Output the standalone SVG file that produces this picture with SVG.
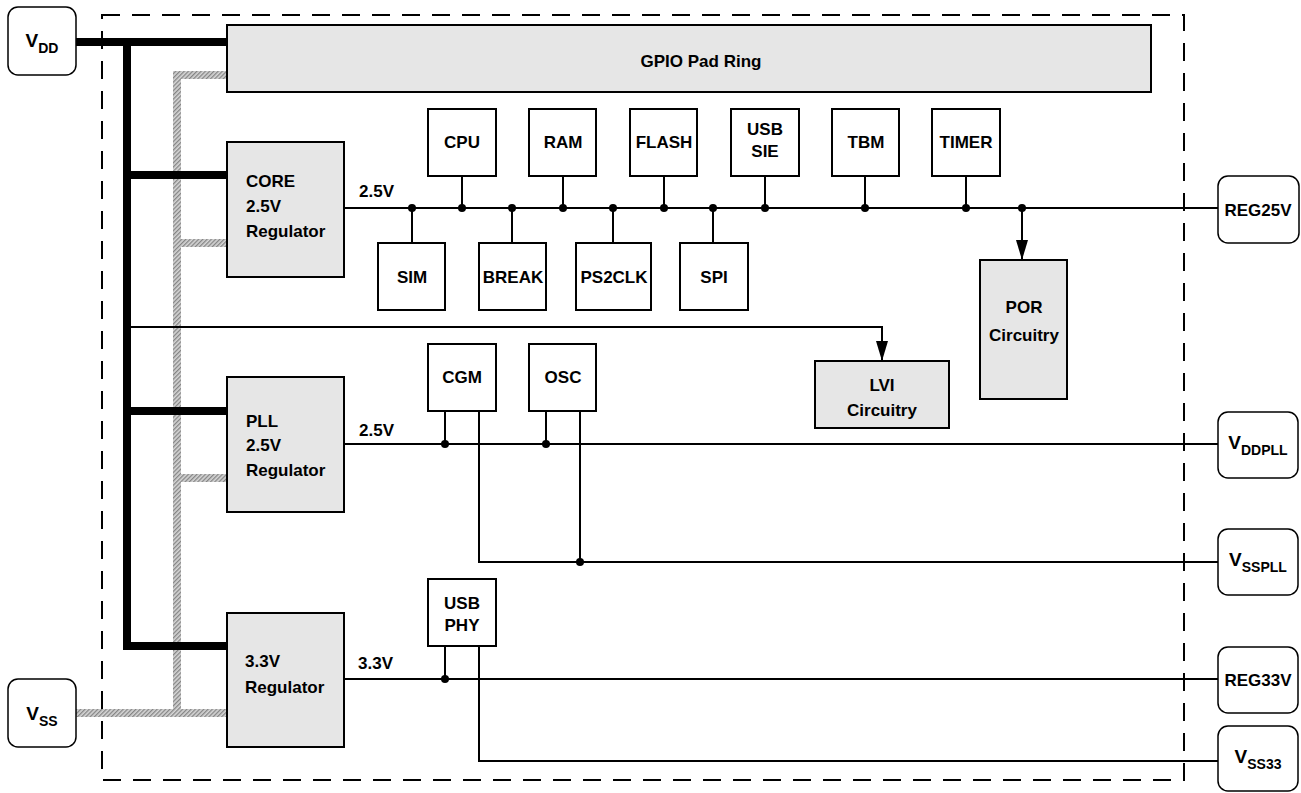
<svg xmlns="http://www.w3.org/2000/svg" width="1301" height="793" viewBox="0 0 1301 793">
<style>
text{font-family:"Liberation Sans",Arial,sans-serif;font-weight:bold;font-size:17px;fill:#000}
.box{fill:#fff;stroke:#000;stroke-width:2}
.gbox{fill:#e6e6e6;stroke:#000;stroke-width:2}
.pin{fill:#fff;stroke:#000;stroke-width:1.5}
.w{fill:none;stroke:#000;stroke-width:2}
.thick{fill:#000}
.hat{fill:url(#hatch)}
.pv{font-size:19px}
.sub{font-size:14px}
.dot{fill:#000}
</style>
<defs>
<pattern id="hatch" width="3" height="3" patternUnits="userSpaceOnUse" patternTransform="rotate(45)">
<rect width="3" height="3" fill="#d6d6d6"/><rect width="1.3" height="3" fill="#858585"/>
</pattern>
<marker id="arr" viewBox="0 0 20 12" refX="20" refY="6" markerWidth="20" markerHeight="12" markerUnits="userSpaceOnUse" orient="auto">
<path d="M0,0 L20,6 L0,12 Z" fill="#000"/>
</marker>
</defs>
<rect width="1301" height="793" fill="#fff"/>
<rect id="chip-border" x="102" y="15" width="1082" height="765" fill="none" stroke="#000" stroke-width="2" stroke-dasharray="18 12"/>

<g id="supply-rails">
<rect class="hat" x="173" y="71" width="54" height="8"/>
<rect class="hat" x="173" y="71" width="8" height="646"/>
<rect class="hat" x="181" y="239" width="46" height="8"/>
<rect class="hat" x="181" y="474" width="46" height="8"/>
<rect class="hat" x="76" y="709" width="151" height="8"/>
<rect class="thick" x="76" y="38" width="151" height="8"/>
<rect class="thick" x="123" y="38" width="8" height="612"/>
<rect class="thick" x="131" y="171" width="96" height="8"/>
<rect class="thick" x="131" y="407" width="96" height="8"/>
<rect class="thick" x="131" y="642" width="96" height="8"/>
</g>

<g id="connectors">
<path class="w" d="M344,208 H1218"/>
<path class="w" d="M462,176 V208 M563,176 V208 M664,176 V208 M765,176 V208 M865,176 V208 M966,176 V208"/>
<path class="w" d="M412,208 V243 M512,208 V243 M613,208 V243 M713,208 V243"/>
<path class="w" d="M1022,208 V260" marker-end="url(#arr)"/>
<path class="w" d="M131,327 H882 V361" marker-end="url(#arr)"/>
<path class="w" d="M344,444 H1218"/>
<path class="w" d="M445,411 V444 M546,411 V444"/>
<path class="w" d="M479,411 V562 H1218 M580,411 V562"/>
<path class="w" d="M344,679 H1218"/>
<path class="w" d="M445,646 V679"/>
<path class="w" d="M479,646 V761 H1218"/>
<g class="dot">
<circle cx="412" cy="208" r="4"/><circle cx="462" cy="208" r="4"/><circle cx="512" cy="208" r="4"/><circle cx="563" cy="208" r="4"/><circle cx="613" cy="208" r="4"/><circle cx="664" cy="208" r="4"/><circle cx="713" cy="208" r="4"/><circle cx="765" cy="208" r="4"/><circle cx="865" cy="208" r="4"/><circle cx="966" cy="208" r="4"/><circle cx="1022" cy="208" r="4"/>
<circle cx="445" cy="444" r="4"/><circle cx="546" cy="444" r="4"/><circle cx="580" cy="562" r="4"/><circle cx="445" cy="679" r="4"/>
</g>
<text x="359" y="197">2.5V</text>
<text x="359" y="436">2.5V</text>
<text x="358" y="669">3.3V</text>
</g>

<g id="vdd"><rect class="pin" x="8" y="7" width="68" height="68" rx="10"/><text class="pv" x="42" y="47" text-anchor="middle">V<tspan class="sub" dy="6">DD</tspan></text></g>
<g id="vss"><rect class="pin" x="8" y="679" width="68" height="68" rx="10"/><text class="pv" x="42" y="720" text-anchor="middle">V<tspan class="sub" dy="6">SS</tspan></text></g>
<g id="reg25v"><rect class="pin" x="1218" y="176" width="81" height="67" rx="10"/><text x="1258" y="216" text-anchor="middle">REG25V</text></g>
<g id="vddpll"><rect class="pin" x="1218" y="412" width="80" height="66" rx="10"/><text class="pv" x="1258" y="449" text-anchor="middle">V<tspan class="sub" dy="6">DDPLL</tspan></text></g>
<g id="vsspll"><rect class="pin" x="1218" y="529" width="80" height="66" rx="10"/><text class="pv" x="1258" y="566" text-anchor="middle">V<tspan class="sub" dy="6">SSPLL</tspan></text></g>
<g id="reg33v"><rect class="pin" x="1218" y="647" width="80" height="66" rx="10"/><text x="1258" y="686" text-anchor="middle">REG33V</text></g>
<g id="vss33"><rect class="pin" x="1218" y="726" width="80" height="65" rx="10"/><text class="pv" x="1258" y="763" text-anchor="middle">V<tspan class="sub" dy="6">SS33</tspan></text></g>

<g id="gpio"><rect class="gbox" x="227" y="25" width="924" height="67"/><text x="701" y="67" text-anchor="middle">GPIO Pad Ring</text></g>
<g id="core-reg"><rect class="gbox" x="227" y="142" width="117" height="135"/><text x="246" y="187">CORE</text><text x="246" y="212">2.5V</text><text x="246" y="237">Regulator</text></g>
<g id="pll-reg"><rect class="gbox" x="227" y="377" width="117" height="135"/><text x="246" y="427">PLL</text><text x="246" y="451">2.5V</text><text x="246" y="476">Regulator</text></g>
<g id="reg33"><rect class="gbox" x="227" y="613" width="117" height="134"/><text x="245" y="667">3.3V</text><text x="245" y="693">Regulator</text></g>

<g id="cpu"><rect class="box" x="428" y="109" width="68" height="67"/><text x="462" y="148" text-anchor="middle">CPU</text></g>
<g id="ram"><rect class="box" x="529" y="109" width="67" height="67"/><text x="563" y="148" text-anchor="middle">RAM</text></g>
<g id="flash"><rect class="box" x="630" y="109" width="67" height="67"/><text x="664" y="148" text-anchor="middle">FLASH</text></g>
<g id="usb-sie"><rect class="box" x="731" y="109" width="68" height="67"/><text x="765" y="135" text-anchor="middle">USB</text><text x="765" y="157" text-anchor="middle">SIE</text></g>
<g id="tbm"><rect class="box" x="832" y="109" width="67" height="67"/><text x="866" y="148" text-anchor="middle">TBM</text></g>
<g id="timer"><rect class="box" x="932" y="109" width="68" height="67"/><text x="966" y="148" text-anchor="middle">TIMER</text></g>

<g id="sim"><rect class="box" x="378" y="243" width="67" height="67"/><text x="412" y="283" text-anchor="middle">SIM</text></g>
<g id="break"><rect class="box" x="479" y="243" width="67" height="67"/><text x="513" y="283" text-anchor="middle">BREAK</text></g>
<g id="ps2clk"><rect class="box" x="576" y="243" width="75" height="67"/><text x="614" y="283" text-anchor="middle">PS2CLK</text></g>
<g id="spi"><rect class="box" x="680" y="243" width="68" height="67"/><text x="714" y="283" text-anchor="middle">SPI</text></g>

<g id="por"><rect class="gbox" x="980" y="260" width="87" height="139"/><text x="1024" y="313" text-anchor="middle">POR</text><text x="1024" y="341" text-anchor="middle">Circuitry</text></g>
<g id="lvi"><rect class="gbox" x="815" y="361" width="134" height="67"/><text x="882" y="391" text-anchor="middle">LVI</text><text x="882" y="416" text-anchor="middle">Circuitry</text></g>

<g id="cgm"><rect class="box" x="428" y="344" width="68" height="67"/><text x="462" y="383" text-anchor="middle">CGM</text></g>
<g id="osc"><rect class="box" x="529" y="344" width="67" height="67"/><text x="563" y="383" text-anchor="middle">OSC</text></g>
<g id="usb-phy"><rect class="box" x="428" y="579" width="68" height="67"/><text x="462" y="609" text-anchor="middle">USB</text><text x="462" y="631" text-anchor="middle">PHY</text></g>
</svg>
